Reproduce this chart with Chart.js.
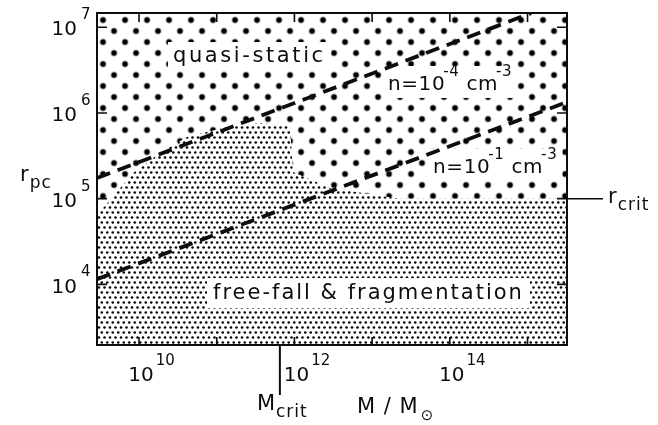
<!DOCTYPE html>
<html lang="en">
<head>
<meta charset="UTF-8">
<title>Quasi-static vs free-fall collapse</title>
<script src="https://cdn.jsdelivr.net/npm/chart.js@4.4.1/dist/chart.umd.min.js"></script>
<style>
  body { margin: 0; background: #fff; }
  #wrap { width: 658px; height: 425px; }
</style>
</head>
<body>
<div id="wrap"><canvas id="chart" width="658" height="425"></canvas></div>
<script>
// axis limits: M in solar masses, r in pc
const massRange = [2.88e9, 3.22e15];
const radiusRange = [1.96e3, 1.466e7];
const massTicks = [1e10, 1e11, 1e12, 1e13, 1e14, 1e15];
const massLabelExp = [10, 12, 14];
const radiusTicks = [1e4, 1e5, 1e6, 1e7];
const radiusLabelExp = [4, 5, 6, 7];

// dashed lines of constant density
const lineHighM = [2.88e9, 1.11e15];   // n = 1e-4 cm^-3
const lineHighR = [1.74e5, 1.46e7];
const lineLowM = [2.88e9, 3.22e15];    // n = 1e-1 cm^-3
const lineLowR = [1.15e4, 1.34e6];

// upper edge of the free-fall region
const edgeM = [2.88e9, 4.24e9, 8.38e9, 1.86e10, 4.15e10, 1.36e11, 3.61e11, 8.77e11, 9.6e11, 2.87e12, 2.29e13];
const edgeR = [6.44e4, 9.64e4, 1.99e5, 3.40e5, 5.24e5, 6.84e5, 7.62e5, 7.03e5, 2.04e5, 1.33e5, 1.0e5];
const rCrit = 1.0e5;
const mCrit = 6.5e11;

const FONT = '"DejaVu Sans", sans-serif';
const INK = '#0d0d0d';

// label anchors in data units (left edge, vertical centre)
const textLabels = [
  { parts: [{ t: 'quasi-static' }], m: 2.74e10, r: 4.49e6, size: 21, spacing: 2.6, box: [5, 15, 14] },
  { parts: [{ t: 'n=10' }, { t: '-4', sup: true, dx: -2 }, { t: ' cm' }, { t: '-3', sup: true, dx: -2 }], m: 1.60e13, r: 2.12e6, size: 20, spacing: 0.6, box: [5, 19, 13] },
  { parts: [{ t: 'n=10' }, { t: '-1', sup: true, dx: -2 }, { t: ' cm' }, { t: '-3', sup: true, dx: -2 }], m: 6.08e13, r: 2.28e5, size: 20, spacing: 0.6, box: [5, 19, 13] },
  { parts: [{ t: 'free-fall & fragmentation' }], m: 8.96e10, r: 7.91e3, size: 21, spacing: 2, box: [6, 15, 15] }
];

function dotPattern(ctx, w, h, rad, pts) {
  const c = document.createElement('canvas');
  c.width = w; c.height = h;
  const g = c.getContext('2d');
  g.fillStyle = '#000';
  pts.forEach(([x, y]) => {
    for (const dx of [-w, 0, w]) for (const dy of [-h, 0, h]) {
      g.beginPath();
      g.arc(x + dx, y + dy, rad, 0, Math.PI * 2);
      g.fill();
    }
  });
  return ctx.createPattern(c, 'repeat');
}

function drawRich(ctx, parts, x, cy, size, small, spacing, dry) {
  let cx = x;
  ctx.textAlign = 'left';
  ctx.textBaseline = 'middle';
  for (const p of parts) {
    ctx.font = `${p.sup || p.sub ? small : size}px ${FONT}`;
    ctx.letterSpacing = spacing + 'px';
    cx += p.dx || 0;
    let y = cy;
    if (p.sup) y = cy - size * 0.62;
    if (p.sub) y = cy + size * 0.38;
    if (!dry) ctx.fillText(p.t, cx, y);
    cx += ctx.measureText(p.t).width;
  }
  ctx.letterSpacing = '0px';
  return cx - x;
}

const decor = {
  id: 'decor',
  beforeDatasetsDraw(chart) {
    const { ctx, chartArea: a, scales: { x, y } } = chart;
    ctx.save();
    ctx.beginPath();
    ctx.rect(a.left, a.top, a.right - a.left, a.bottom - a.top);
    ctx.clip();

    const coarse = dotPattern(ctx, 22, 22, 2.95, [[5.5, 5.5], [16.5, 16.5]]);
    coarse.setTransform(new DOMMatrix().translate(a.left + 0.5, a.top + 1.5));
    ctx.fillStyle = coarse;
    ctx.fillRect(a.left, a.top, a.right - a.left, a.bottom - a.top);

    // free-fall region
    ctx.beginPath();
    ctx.moveTo(x.getPixelForValue(massRange[0]), y.getPixelForValue(radiusRange[0]));
    edgeM.forEach((m, i) => ctx.lineTo(x.getPixelForValue(m), y.getPixelForValue(edgeR[i])));
    ctx.lineTo(x.getPixelForValue(massRange[1]), y.getPixelForValue(rCrit));
    ctx.lineTo(x.getPixelForValue(massRange[1]), y.getPixelForValue(radiusRange[0]));
    ctx.closePath();
    ctx.fillStyle = '#fff';
    ctx.fill();
    ctx.fillStyle = dotPattern(ctx, 11, 10, 1.28, [[2.75, 2.5], [8.25, 2.5], [0, 7.5], [5.5, 7.5]]);
    ctx.fill();

    // white boxes behind the labels
    ctx.fillStyle = '#fff';
    textLabels.forEach(l => {
      const px = x.getPixelForValue(l.m), py = y.getPixelForValue(l.r);
      const w = drawRich(ctx, l.parts, px, py, l.size, 15, l.spacing, true);
      ctx.fillRect(px - l.box[0], py - l.box[1], w + 2 * l.box[0], l.box[1] + l.box[2]);
    });
    ctx.restore();
  },
  afterDatasetsDraw(chart) {
    const { ctx, chartArea: a, scales: { x, y } } = chart;
    ctx.save();
    ctx.strokeStyle = INK;
    ctx.fillStyle = INK;

    // frame
    ctx.lineWidth = 2;
    ctx.strokeRect(a.left, a.top, a.right - a.left, a.bottom - a.top);

    // inward ticks
    ctx.lineWidth = 1.6;
    ctx.beginPath();
    massTicks.forEach(v => {
      const px = x.getPixelForValue(v);
      ctx.moveTo(px, a.bottom); ctx.lineTo(px, a.bottom - 8);
      ctx.moveTo(px, a.top); ctx.lineTo(px, a.top + 9);
    });
    radiusTicks.forEach(v => {
      const py = y.getPixelForValue(v);
      ctx.moveTo(a.left, py); ctx.lineTo(a.left + 10, py);
      ctx.moveTo(a.right, py); ctx.lineTo(a.right - 10, py);
    });
    ctx.stroke();

    // tick labels 10^k
    massLabelExp.forEach(k => {
      const px = x.getPixelForValue(Math.pow(10, k)) + 2;
      ctx.font = `20px ${FONT}`;
      const w = ctx.measureText('10').width;
      ctx.textAlign = 'left'; ctx.textBaseline = 'middle';
      ctx.fillText('10', px - w / 2, a.bottom + 31);
      ctx.font = `15px ${FONT}`;
      ctx.fillText(String(k), px + w / 2 + 2, a.bottom + 16);
    });
    radiusLabelExp.forEach(k => {
      const py = y.getPixelForValue(Math.pow(10, k));
      ctx.font = `20px ${FONT}`;
      ctx.textAlign = 'right'; ctx.textBaseline = 'middle';
      ctx.fillText('10', a.left - 20, py + 3);
      ctx.font = `15px ${FONT}`;
      ctx.textAlign = 'left';
      ctx.fillText(String(k), a.left - 16, py - 12);
    });

    // labels inside the plot
    textLabels.forEach(l => {
      drawRich(ctx, l.parts, x.getPixelForValue(l.m), y.getPixelForValue(l.r), l.size, 15, l.spacing);
    });

    // axis titles
    drawRich(ctx, [{ t: 'r' }, { t: 'pc', sub: true }], 20, 176, 21, 17, 1);
    drawRich(ctx, [{ t: 'M / M' }, { t: '⊙', sub: true, dx: 2 }], x.getPixelForValue(6.4e12), a.bottom + 63, 21, 15, 1);

    // M_crit marker
    const mx = x.getPixelForValue(mCrit);
    ctx.lineWidth = 2;
    ctx.beginPath();
    ctx.moveTo(mx, a.bottom); ctx.lineTo(mx, a.bottom + 50);
    ctx.stroke();
    drawRich(ctx, [{ t: 'M' }, { t: 'crit', sub: true }], mx - 23, a.bottom + 60, 21, 17, 1);

    // r_crit marker
    const ry = y.getPixelForValue(rCrit);
    ctx.lineWidth = 1.5;
    ctx.beginPath();
    ctx.moveTo(a.right, ry); ctx.lineTo(a.right + 36, ry);
    ctx.stroke();
    drawRich(ctx, [{ t: 'r' }, { t: 'crit', sub: true }], a.right + 41, ry - 1, 21, 17, 1);

    ctx.restore();
  }
};

const lineStyle = {
  showLine: true,
  borderColor: INK,
  borderWidth: 3.8,
  borderDash: [14, 8],
  pointRadius: 0,
  fill: false
};

new Chart(document.getElementById('chart'), {
  type: 'scatter',
  data: {
    datasets: [
      Object.assign({ label: 'n = 1e-4', data: lineHighM.map((m, i) => ({ x: m, y: lineHighR[i] })) }, lineStyle),
      Object.assign({ label: 'n = 1e-1', data: lineLowM.map((m, i) => ({ x: m, y: lineLowR[i] })) }, lineStyle)
    ]
  },
  options: {
    responsive: false,
    animation: false,
    layout: { padding: { left: 97, right: 91, top: 13, bottom: 80 } },
    plugins: { legend: { display: false }, tooltip: { enabled: false } },
    scales: {
      x: { type: 'logarithmic', min: massRange[0], max: massRange[1], display: false },
      y: { type: 'logarithmic', min: radiusRange[0], max: radiusRange[1], display: false }
    }
  },
  plugins: [decor]
});
</script>
</body>
</html>
